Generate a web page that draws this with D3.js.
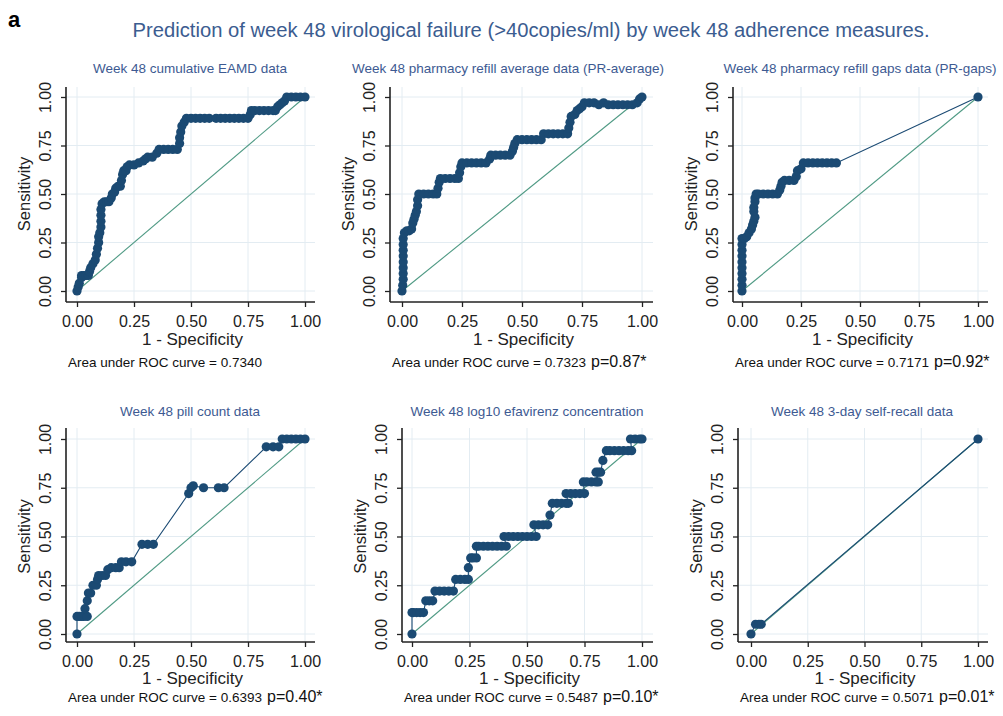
<!DOCTYPE html>
<html>
<head>
<meta charset="utf-8">
<script src="https://cdn.jsdelivr.net/npm/d3@7"></script>
<style>
  html, body { margin: 0; padding: 0; background: #fff; }
  svg { display: block; font-family: "Liberation Sans", Arial, sans-serif; }
</style>
</head>
<body>
<svg id="svg" width="1003" height="716"></svg>
<script>
// data (1 - specificity, sensitivity)
const mainTitle = 'Prediction of week 48 virological failure (>40copies/ml) by week 48 adherence measures.';
const panelTitles = [
  'Week 48 cumulative EAMD data',
  'Week 48 pharmacy refill average data (PR-average)',
  'Week 48 pharmacy refill gaps data (PR-gaps)',
  'Week 48 pill count data',
  'Week 48 log10 efavirenz concentration',
  'Week 48 3-day self-recall data'
];
const aucValues = ['0.7340', '0.7323', '0.7171', '0.6393', '0.5487', '0.5071'];
const pValues = [null, '0.87', '0.92', '0.40', '0.10', '0.01'];
const ticks = [0, 0.25, 0.5, 0.75, 1];

const rocEAMD = [[0,0],[0.005,0.02],[0.01,0.04],[0.02,0.07],[0.02,0.08],[0.03,0.08],[0.04,0.08],[0.05,0.08],
  [0.055,0.1],[0.06,0.12],[0.07,0.14],[0.08,0.16],[0.085,0.19],[0.09,0.22],[0.095,0.25],[0.095,0.28],
  [0.1,0.3],[0.105,0.33],[0.105,0.36],[0.105,0.39],[0.105,0.42],[0.11,0.45],[0.12,0.46],[0.13,0.46],
  [0.14,0.46],[0.15,0.48],[0.155,0.5],[0.165,0.51],[0.17,0.53],[0.18,0.54],[0.19,0.54],[0.195,0.57],
  [0.2,0.6],[0.205,0.62],[0.215,0.62],[0.22,0.64],[0.23,0.65],[0.25,0.65],[0.27,0.66],[0.29,0.67],
  [0.3,0.68],[0.31,0.69],[0.33,0.69],[0.35,0.71],[0.36,0.73],[0.38,0.73],[0.4,0.73],[0.42,0.73],
  [0.44,0.73],[0.45,0.76],[0.45,0.79],[0.455,0.82],[0.46,0.85],[0.47,0.87],[0.48,0.89],[0.5,0.89],
  [0.52,0.89],[0.54,0.89],[0.56,0.89],[0.58,0.89],[0.61,0.89],[0.63,0.89],[0.65,0.89],[0.67,0.89],
  [0.69,0.89],[0.71,0.89],[0.73,0.89],[0.75,0.89],[0.76,0.91],[0.765,0.93],[0.78,0.93],[0.8,0.93],
  [0.82,0.93],[0.84,0.93],[0.86,0.93],[0.87,0.93],[0.88,0.95],[0.89,0.96],[0.9,0.97],[0.91,0.98],
  [0.92,1],[0.94,1],[0.96,1],[0.98,1],[1,1]];

const rocPRavg = [[0,0],[0.003,0.03],[0.005,0.06],[0.005,0.09],[0.005,0.12],[0.005,0.15],[0.005,0.18],
  [0.005,0.21],[0.005,0.24],[0.005,0.27],[0.01,0.3],[0.02,0.31],[0.03,0.31],[0.04,0.32],[0.045,0.35],
  [0.05,0.37],[0.055,0.39],[0.06,0.41],[0.065,0.44],[0.065,0.47],[0.07,0.5],[0.09,0.5],[0.11,0.5],
  [0.13,0.5],[0.145,0.5],[0.15,0.53],[0.155,0.56],[0.16,0.58],[0.18,0.58],[0.2,0.58],[0.22,0.58],
  [0.235,0.58],[0.24,0.61],[0.245,0.64],[0.25,0.66],[0.27,0.66],[0.29,0.66],[0.31,0.66],[0.33,0.66],
  [0.35,0.66],[0.365,0.68],[0.37,0.7],[0.39,0.7],[0.41,0.7],[0.43,0.7],[0.45,0.7],[0.46,0.72],
  [0.465,0.74],[0.47,0.76],[0.48,0.78],[0.5,0.78],[0.52,0.78],[0.54,0.78],[0.56,0.78],[0.58,0.78],
  [0.59,0.81],[0.61,0.81],[0.63,0.81],[0.65,0.81],[0.67,0.81],[0.69,0.81],[0.695,0.84],[0.7,0.87],
  [0.705,0.9],[0.72,0.91],[0.73,0.93],[0.74,0.94],[0.75,0.95],[0.76,0.97],[0.78,0.97],[0.8,0.97],
  [0.82,0.96],[0.84,0.97],[0.86,0.96],[0.88,0.96],[0.9,0.96],[0.92,0.96],[0.94,0.96],[0.96,0.96],
  [0.98,0.97],[0.99,0.99],[1,1]];

const rocPRgaps = [[0,0],[0,0.03],[0,0.06],[0,0.09],[0,0.12],[0,0.15],[0,0.18],[0,0.21],[0,0.24],
  [0,0.27],[0.01,0.27],[0.02,0.28],[0.03,0.3],[0.04,0.32],[0.045,0.34],[0.05,0.36],[0.055,0.38],
  [0.05,0.41],[0.05,0.43],[0.055,0.46],[0.055,0.48],[0.06,0.5],[0.07,0.5],[0.09,0.5],[0.11,0.5],
  [0.13,0.5],[0.15,0.5],[0.16,0.52],[0.165,0.54],[0.17,0.56],[0.18,0.57],[0.2,0.57],[0.22,0.57],
  [0.23,0.59],[0.235,0.62],[0.25,0.63],[0.26,0.66],[0.28,0.66],[0.3,0.66],[0.32,0.66],[0.34,0.66],
  [0.36,0.66],[0.38,0.66],[0.4,0.66],[1,1]];

const rocPill = [[0,0],[0,0.09],[0.01,0.09],[0.02,0.09],[0.03,0.09],[0.045,0.09],[0.035,0.13],
  [0.045,0.17],[0.05,0.21],[0.06,0.21],[0.07,0.25],[0.085,0.25],[0.09,0.28],[0.095,0.3],[0.11,0.3],
  [0.125,0.3],[0.135,0.33],[0.15,0.34],[0.17,0.34],[0.185,0.34],[0.195,0.37],[0.215,0.37],[0.24,0.37],
  [0.285,0.46],[0.31,0.46],[0.335,0.46],[0.49,0.72],[0.5,0.75],[0.51,0.76],[0.555,0.75],[0.62,0.75],
  [0.645,0.75],[0.83,0.96],[0.86,0.96],[0.885,0.96],[0.9,1],[0.92,1],[0.94,1],[0.96,1],[0.98,1],[1,1]];

const rocEfv = [[0,0],[0,0.11],[0.005,0.11],[0.02,0.11],[0.035,0.11],[0.05,0.11],[0.06,0.17],[0.075,0.17],
  [0.09,0.17],[0.1,0.22],[0.12,0.22],[0.14,0.22],[0.16,0.22],[0.18,0.22],[0.19,0.28],[0.21,0.28],
  [0.23,0.28],[0.245,0.28],[0.245,0.34],[0.255,0.39],[0.265,0.39],[0.28,0.39],[0.28,0.45],[0.29,0.45],
  [0.31,0.45],[0.33,0.45],[0.35,0.45],[0.37,0.45],[0.39,0.45],[0.41,0.45],[0.4,0.5],[0.42,0.5],
  [0.44,0.5],[0.46,0.5],[0.48,0.5],[0.5,0.5],[0.52,0.5],[0.54,0.5],[0.53,0.56],[0.55,0.56],[0.57,0.56],
  [0.59,0.56],[0.6,0.61],[0.61,0.67],[0.63,0.67],[0.65,0.67],[0.67,0.67],[0.68,0.67],[0.67,0.72],
  [0.69,0.72],[0.71,0.72],[0.73,0.72],[0.75,0.72],[0.745,0.78],[0.76,0.78],[0.78,0.78],[0.8,0.78],
  [0.81,0.78],[0.8,0.83],[0.81,0.83],[0.82,0.83],[0.83,0.89],[0.845,0.94],[0.86,0.94],[0.88,0.94],
  [0.9,0.94],[0.92,0.94],[0.94,0.94],[0.955,0.94],[0.95,1],[0.97,1],[0.99,1],[1,1]];

const rocRecall = [[0,0],[0.02,0.05],[0.035,0.05],[0.045,0.05],[1,1]];

const curves = [rocEAMD, rocPRavg, rocPRgaps, rocPill, rocEfv, rocRecall];

// frame geometry of each sub-plot (pixels)
const rowTop = {x1: 97, x0: 291, top: 87, axis: 302, title: 73, tickBase: 327, labBase: 345, aucBase: 367};
const rowBot = {x1: 439, x0: 634, top: 428, axis: 642, title: 416, tickBase: 667, labBase: 684, aucBase: 702};
const frames = [
  {row: rowTop, yAxis: 66,  left: 77,  right: 305, edge: 315, titleX: 190},
  {row: rowTop, yAxis: 390, left: 402, right: 642, edge: 653, titleX: 508},
  {row: rowTop, yAxis: 733, left: 742, right: 978, edge: 988, titleX: 860},
  {row: rowBot, yAxis: 66,  left: 77,  right: 305, edge: 315, titleX: 190},
  {row: rowBot, yAxis: 402, left: 412, right: 642, edge: 653, titleX: 527},
  {row: rowBot, yAxis: 738, left: 751, right: 978, edge: 988, titleX: 862}
];

const navy = '#1b4a73';
const refCol = '#4f9a84';
const gridCol = '#e3ecf2';
const titleCol = '#3d5a92';

const svg = d3.select('#svg');

svg.append('text').attr('x', 8).attr('y', 27)
  .attr('font-size', 22).attr('font-weight', 'bold').attr('fill', '#000').text('a');
svg.append('text').attr('x', 531).attr('y', 37).attr('text-anchor', 'middle')
  .attr('font-size', 19.5).attr('fill', '#3b5c90')
  .attr('textLength', 797).attr('lengthAdjust', 'spacingAndGlyphs').text(mainTitle);

frames.forEach((f, i) => drawPanel(f, i));

function drawPanel(f, i) {
  const r = f.row;
  const x = d3.scaleLinear().domain([0, 1]).range([f.left, f.right]);
  const y = d3.scaleLinear().domain([0, 1]).range([r.x0, r.x1]);
  const g = svg.append('g');

  // grid
  g.append('g').selectAll('line.vg').data(ticks).join('line')
    .attr('x1', d => x(d)).attr('x2', d => x(d)).attr('y1', r.top).attr('y2', r.axis)
    .attr('stroke', gridCol).attr('stroke-width', 1);
  g.append('g').selectAll('line.hg').data(ticks).join('line')
    .attr('x1', f.yAxis).attr('x2', f.edge).attr('y1', d => y(d)).attr('y2', d => y(d))
    .attr('stroke', gridCol).attr('stroke-width', 1);

  // axes
  const ax = g.append('g').attr('transform', `translate(0,${r.axis})`)
    .call(d3.axisBottom(x).tickValues(ticks).tickSize(5).tickFormat(d3.format('.2f')));
  ax.select('.domain').attr('d', `M${f.yAxis},0H${f.edge}`);
  const ay = g.append('g').attr('transform', `translate(${f.yAxis},0)`)
    .call(d3.axisLeft(y).tickValues(ticks).tickSize(5).tickFormat(d3.format('.2f')));
  ay.select('.domain').attr('d', `M0,${r.top}V${r.axis}`);
  [ax, ay].forEach(a => {
    a.selectAll('.domain').attr('stroke', '#222').attr('stroke-width', 1.6);
    a.selectAll('.tick line').attr('stroke', '#222').attr('stroke-width', 1.3);
  });
  ax.selectAll('.tick text').attr('y', r.tickBase - r.axis).attr('dy', null)
    .attr('font-size', 16).attr('fill', '#222').attr('font-family', null);
  ay.selectAll('.tick text')
    .attr('x', null).attr('dy', null).attr('text-anchor', 'middle')
    .attr('transform', 'translate(-15,0) rotate(-90)')
    .attr('font-size', 16).attr('fill', '#222').attr('font-family', null);

  // labels
  g.append('text').attr('x', (f.yAxis + f.edge) / 2 + 2).attr('y', r.labBase)
    .attr('text-anchor', 'middle').attr('font-size', 17).attr('fill', '#222').text('1 - Specificity');
  g.append('text').attr('transform', `translate(${f.yAxis - 36},${(r.x0 + r.x1) / 2}) rotate(-90)`)
    .attr('text-anchor', 'middle').attr('font-size', 16.5).attr('fill', '#222').text('Sensitivity');
  g.append('text').attr('x', f.titleX).attr('y', r.title).attr('text-anchor', 'middle')
    .attr('font-size', 13.5).attr('fill', titleCol).text(panelTitles[i]);

  const auc = g.append('text').attr('x', f.yAxis + 2).attr('y', r.aucBase).attr('fill', '#111');
  auc.append('tspan').attr('font-size', 13.5)
    .text(`Area under ROC curve = ${aucValues[i]}`);
  if (pValues[i]) auc.append('tspan').attr('dx', 5).attr('font-size', 16).text(`p=${pValues[i]}*`);

  // reference diagonal
  g.append('line').attr('x1', x(0)).attr('y1', y(0)).attr('x2', x(1)).attr('y2', y(1))
    .attr('stroke', refCol).attr('stroke-width', 1.1);

  // roc curve
  const pts = curves[i];
  g.append('path').datum(pts)
    .attr('d', d3.line().x(d => x(d[0])).y(d => y(d[1])))
    .attr('fill', 'none').attr('stroke', navy).attr('stroke-width', 1.1);
  g.append('g').selectAll('circle').data(pts).join('circle')
    .attr('cx', d => x(d[0])).attr('cy', d => y(d[1])).attr('r', 4.6)
    .attr('fill', navy);
}
</script>
</body>
</html>
